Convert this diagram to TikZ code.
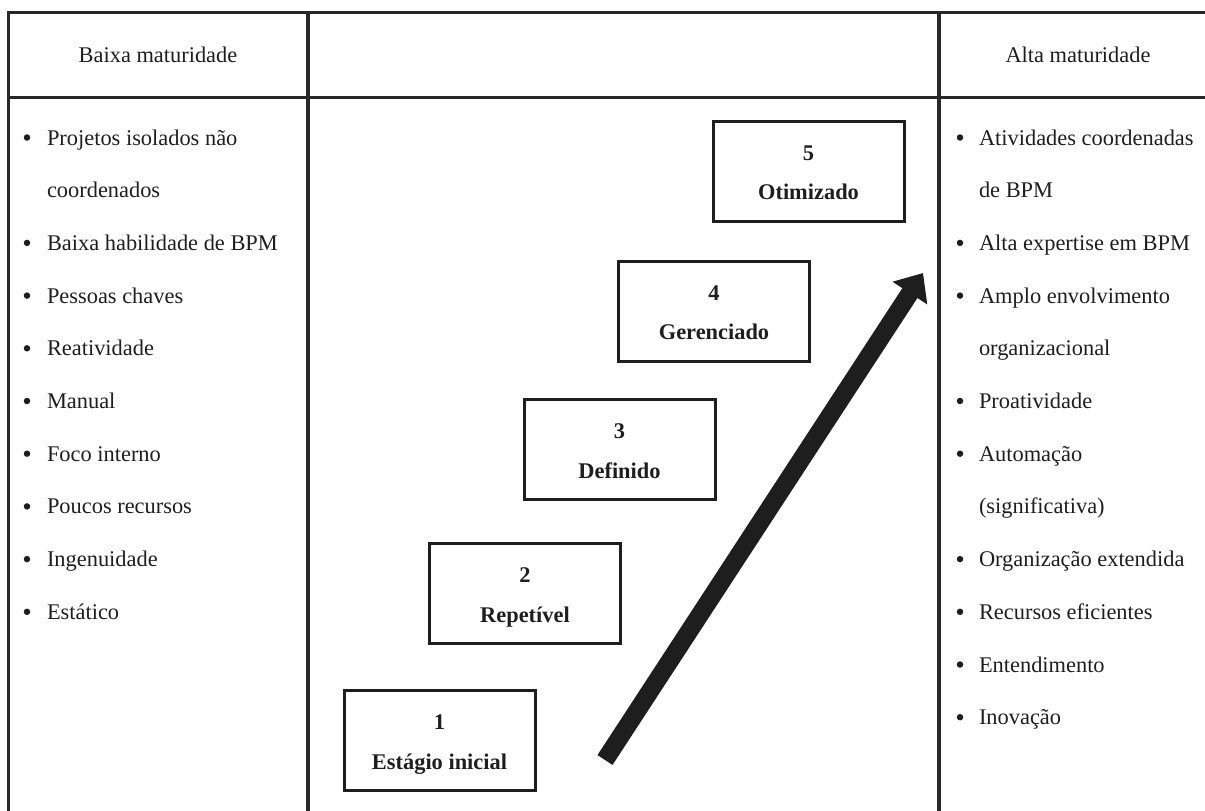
\documentclass[tikz,border=0pt]{standalone}
\usepackage{fontspec}
\setmainfont{Liberation Serif}
\usetikzlibrary{arrows.meta}
\definecolor{ink}{RGB}{30,30,30}
\definecolor{rule}{RGB}{40,40,40}
\begin{document}
\begin{tikzpicture}[x=1pt,y=-1pt,
  every node/.style={inner sep=0pt,outer sep=0pt,text=ink,font=\fontsize{22.4}{26}\selectfont},
  gridline/.style={draw=rule,line width=3pt},
  stagebox/.style={draw=ink,line width=3pt,minimum width=191pt,minimum height=100pt},
  stagelbl/.style={anchor=base,font=\fontsize{22.4}{26}\selectfont\bfseries},
  bul/.style={circle,fill=ink,minimum size=6.5pt},
  itemtxt/.style={anchor=base west},
  bigarrow/.style={draw=ink,line width=18pt,-{Triangle[length=24pt,width=40pt]}}]
\useasboundingbox (0,0) rectangle (1205,811);

% table grid
\draw[gridline] (8,811) -- (8,12) -- (1205,12);
\draw[gridline] (8,97) -- (1205,97);
\draw[gridline,line width=3.5pt] (308,12) -- (308,811);
\draw[gridline,line width=3.5pt] (939,12) -- (939,811);

% column headers
\node[anchor=base] (hlow) at (158,62) {Baixa maturidade};
\node[anchor=base] (hhigh) at (1078,62) {Alta maturidade};

% low maturity traits
\foreach \t/\k/\b in {Projetos isolados não/0/1, coordenados/1/0, Baixa habilidade de BPM/2/1,
  Pessoas chaves/3/1, Reatividade/4/1, Manual/5/1, Foco interno/6/1,
  Poucos recursos/7/1, Ingenuidade/8/1, Estático/9/1}{
  \pgfmathsetmacro{\yy}{145+52.7*\k}
  \ifnum\b=1 \node[bul] (lb\k) at (27,\yy-7.5) {};\fi
  \node[itemtxt] (lt\k) at (47,\yy) {\t};
}

% high maturity traits
\foreach \t/\k/\b in {Atividades coordenadas/0/1, de BPM/1/0, Alta expertise em BPM/2/1,
  Amplo envolvimento/3/1, organizacional/4/0, Proatividade/5/1, Automação/6/1,
  (significativa)/7/0, Organização extendida/8/1, Recursos eficientes/9/1,
  Entendimento/10/1, Inovação/11/1}{
  \pgfmathsetmacro{\yy}{145+52.7*\k}
  \ifnum\b=1 \node[bul] (rb\k) at (960,\yy-7.5) {};\fi
  \node[itemtxt] (rt\k) at (979,\yy) {\t};
}

% maturity stages
\foreach \n/\name/\cx/\cy in {1/Estágio inicial/439.5/740.5, 2/Repetível/525/593.5,
  3/Definido/619.5/449.5, 4/Gerenciado/714/311, 5/Otimizado/808.5/171}{
  \node[stagebox] (s\n) at (\cx,\cy) {};
  \node[stagelbl] (n\n) at ([yshift=11pt]s\n.center) {\n};
  \node[stagelbl] (m\n) at ([yshift=-28.5pt]s\n.center) {\name};
}

% growth arrow
\coordinate (atail) at (605,760);
\coordinate (ahead) at (923,273);
\draw[bigarrow] (atail) -- (ahead);
\end{tikzpicture}
\end{document}
